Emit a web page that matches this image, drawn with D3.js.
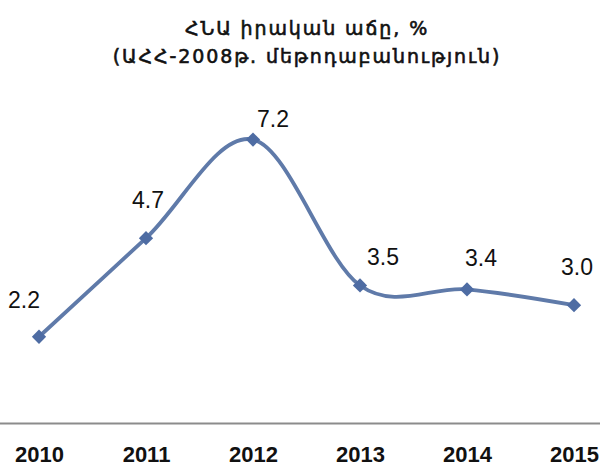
<!DOCTYPE html>
<html>
<head>
<meta charset="utf-8">
<script src="https://cdn.jsdelivr.net/npm/d3@7"></script>
<style>
  body { margin: 0; background: #fff; }
</style>
</head>
<body>
<div class="chart"></div>
<script>
const years = ["2010", "2011", "2012", "2013", "2014", "2015"];
const growth = [2.2, 4.7, 7.2, 3.5, 3.4, 3.0];
const titleLines = ["ՀՆԱ իրական աճը, %", "(ԱՀՀ-2008թ. մեթոդաբանություն)"];

const data = years.map((y, i) => ({year: y, value: growth[i]}));

const width = 600, height = 467;
const margin = ({top: 108, right: 26, bottom: 44, left: 39});

const svg = d3.select('.chart').append('svg')
    .attr("width", width)
    .attr("height", height);

const xScale = d3.scalePoint()
    .domain(years)
    .range([margin.left, width - margin.right]);

const yScale = d3.scaleLinear()
    .domain([0, 8])
    .range([height - margin.bottom + 0.5, margin.top]);

// title
svg.append("g").selectAll("text")
    .data(titleLines)
    .enter()
    .append("text")
    .attr("x", 307)
    .attr("y", (d, i) => 35 + i * 28)
    .attr("text-anchor", "middle")
    .attr("font-family", "DejaVu Sans, sans-serif")
    .attr("font-size", "19px")
    .attr("letter-spacing", "1.9px")
    .attr("stroke", "#111")
    .attr("stroke-width", 0.6)
    .attr("fill", "#111")
    .text(d => d);

// baseline at 0
svg.append("line")
    .attr("x1", 0)
    .attr("x2", width)
    .attr("y1", yScale(0))
    .attr("y2", yScale(0))
    .attr("stroke", "#8c8c8c")
    .attr("stroke-width", 2);

const xAxis = d3.axisBottom(xScale).tickSize(0).tickPadding(0);

svg.append("g")
    .attr("class", "axis x-axis")
    .attr("transform", `translate(0,${yScale(0)})`)
    .call(xAxis)
    .call(g => g.select(".domain").remove())
    .selectAll("text")
    .attr("dy", "38px")
    .attr("font-family", "Liberation Sans, Arial, sans-serif")
    .attr("font-size", "22px")
    .attr("font-weight", "bold")
    .attr("fill", "#111");

const line = d3.line()
    .curve(d3.curveCatmullRom.alpha(0))
    .x(d => xScale(d.year))
    .y(d => yScale(d.value));

svg.append("path")
    .datum(data)
    .attr("fill", "none")
    .attr("stroke", "#5f7aa9")
    .attr("stroke-width", 3.8)
    .attr("stroke-linejoin", "round")
    .attr("d", line);

svg.append("g")
    .selectAll("path")
    .data(data)
    .enter()
    .append("path")
    .attr("d", d3.symbol().type(d3.symbolDiamond2).size(130))
    .attr("transform", d => `translate(${xScale(d.year)},${yScale(d.value)})`)
    .attr("fill", "#4e6ca3");

// value label placement relative to each marker
const labelShift = [[-15, -29], [2, -30], [20, -13], [23, -20], [14, -23], [3, -30]];

svg.append("g")
    .selectAll("text")
    .data(data)
    .enter()
    .append("text")
    .attr("x", (d, i) => xScale(d.year) + labelShift[i][0])
    .attr("y", (d, i) => yScale(d.value) + labelShift[i][1])
    .attr("text-anchor", "middle")
    .attr("font-family", "Liberation Sans, Arial, sans-serif")
    .attr("font-size", "23px")
    .attr("fill", "#111")
    .text(d => d.value.toFixed(1));
</script>
</body>
</html>
